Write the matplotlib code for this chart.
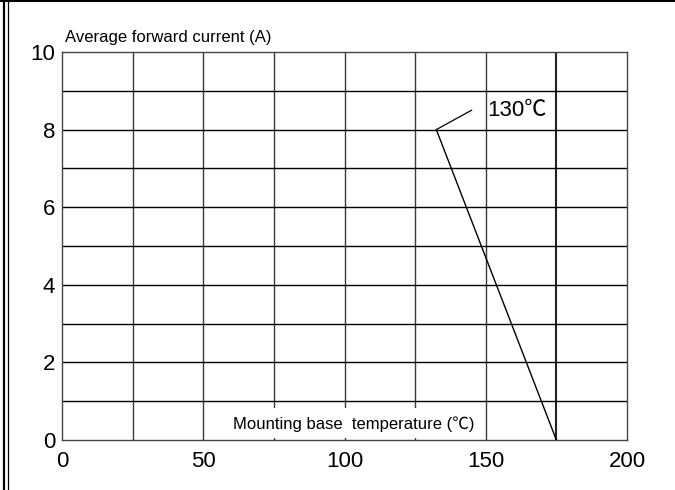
import matplotlib.pyplot as plt
from matplotlib.lines import Line2D
from matplotlib.patches import Rectangle

plt.rcParams['font.family'] = ['Liberation Sans', 'Noto Sans CJK SC', 'DejaVu Sans']

# derating curve: average forward current vs mounting base temperature
temp = [132.5, 175]
current = [8, 0]

x_ticks = [0, 50, 100, 150, 200]
y_ticks = [0, 2, 4, 6, 8, 10]
x_grid = [25, 50, 75, 100, 125, 150, 175]
y_grid = [1, 2, 3, 4, 5, 6, 7, 8, 9]

knee_label = "130\u2103"
x_label = "Mounting base  temperature (\u2103)"
y_label = "Average forward current (A)"

fig = plt.figure(figsize=(6.75, 4.9), dpi=100)
ax = fig.add_axes([62 / 675, 50 / 490, 565 / 675, 388 / 490])

ax.set_xlim(0, 200)
ax.set_ylim(0, 10)
ax.set_xticks(x_ticks)
ax.set_yticks(y_ticks)
ax.tick_params(length=0, labelsize=16, pad=5)
ax.tick_params(axis='x', pad=8)

for s in ax.spines.values():
    s.set_color('#444444')
    s.set_linewidth(1.0)

# grid
for xv in x_grid:
    lw = 1.5 if xv == 175 else 1.0
    col = '#222222' if xv == 175 else '#3a3a3a'
    ax.axvline(xv, color=col, lw=lw, zorder=1)
for yv in y_grid:
    ax.axhline(yv, color='black', lw=1.0, zorder=1)

# white box behind x-axis label
ax.add_patch(Rectangle((50.6, 0.05), 98.8, 0.78, facecolor='white',
                       edgecolor='none', zorder=2))
ax.text(103.4, 0.42, x_label, ha='center', va='center', fontsize=12, zorder=3)

# curve
ax.plot(temp, current, color='black', lw=1.0, zorder=4)

# knee annotation: leader line and label
ax.plot([temp[0], 145], [current[0], 8.5], color='black', lw=0.9, zorder=4)
ax.text(150.4, 8.5, knee_label, fontsize=16, va='center', ha='left', zorder=4)

ax.text(0.005, 1.018, y_label, transform=ax.transAxes, ha='left', va='bottom',
        fontsize=12)

# page frame
fig.add_artist(Line2D([0, 1], [1 - 0.7 / 490, 1 - 0.7 / 490],
                      transform=fig.transFigure, color='black', lw=1.5))
fig.add_artist(Line2D([4 / 675, 4 / 675], [0, 1],
                      transform=fig.transFigure, color='black', lw=1.6))
fig.add_artist(Line2D([7.5 / 675, 7.5 / 675], [0, 1],
                      transform=fig.transFigure, color='black', lw=0.9))

fig.savefig('out.png', dpi=100)
